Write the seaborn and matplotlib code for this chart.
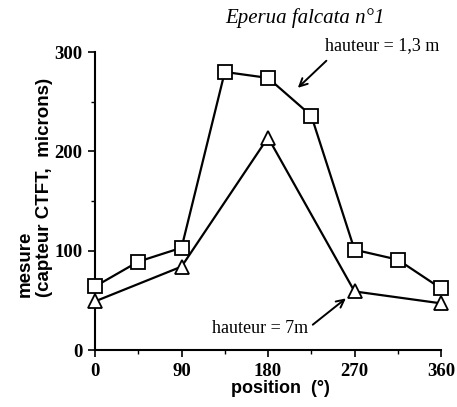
import matplotlib
matplotlib.use('Agg')
import matplotlib.pyplot as plt
import seaborn as sns
import pandas as pd

positions_haut = [0, 45, 90, 135, 180, 225, 270, 315, 360]
mesure_haut = [64, 89, 103, 280, 274, 236, 101, 91, 62]

positions_bas = [0, 90, 180, 270, 360]
mesure_bas = [49, 84, 214, 59, 47]

xticks = [0, 90, 180, 270, 360]
yticks = [0, 100, 200, 300]

sns.set_style('ticks')
plt.rcParams.update({'text.color': 'black', 'axes.labelcolor': 'black',
                     'xtick.color': 'black', 'ytick.color': 'black',
                     'axes.edgecolor': 'black'})

df_haut = pd.DataFrame({'position': positions_haut, 'mesure': mesure_haut})
df_bas = pd.DataFrame({'position': positions_bas, 'mesure': mesure_bas})

fig = plt.figure(figsize=(4.57, 4.07), dpi=100)
ax = fig.add_axes([0.208, 0.14, 0.757, 0.732])

sns.lineplot(x='position', y='mesure', data=df_haut, ax=ax, color='black', lw=1.6,
             marker='s', markersize=10, markerfacecolor='white',
             markeredgecolor='black', markeredgewidth=1.3, zorder=3)
sns.lineplot(x='position', y='mesure', data=df_bas, ax=ax, color='black', lw=1.6,
             marker='^', markersize=10, markerfacecolor='white',
             markeredgecolor='black', markeredgewidth=1.3, zorder=3)

ax.set_xlim(0, 360)
ax.set_ylim(0, 300)
ax.set_xticks(xticks)
ax.set_yticks(yticks)
ax.set_xticklabels([str(v) for v in xticks], fontfamily='Liberation Serif',
                   fontweight='bold', fontsize=13.5)
ax.set_yticklabels([str(v) for v in yticks], fontfamily='Liberation Serif',
                   fontweight='bold', fontsize=13.5)
ax.set_xticks([45, 135, 225, 315], minor=True)
ax.set_yticks([50, 150, 250], minor=True)
ax.tick_params(which='major', length=5, width=1.2, pad=4)
ax.tick_params(which='minor', length=3, width=1)
sns.despine(ax=ax)
for s in ['left', 'bottom']:
    ax.spines[s].set_linewidth(1.5)
for l in ax.lines:
    l.set_clip_on(False)

ax.set_xlabel('position  (°)', fontsize=13, fontweight='bold',
              fontfamily='Liberation Sans')
ax.xaxis.set_label_coords(0.535, -0.1)
ax.set_ylabel('mesure\n(capteur CTFT,  microns)', fontsize=13.5, fontweight='bold',
              fontfamily='Liberation Sans', linespacing=1.2,
              multialignment='left')
ax.yaxis.set_label_coords(-0.122, 0.545)

fig.text(0.667, 0.955, 'Eperua falcata n°1', fontsize=15, style='italic',
         fontfamily='Liberation Serif', ha='center', va='center')

ax.annotate('hauteur = 1,3 m', xy=(211, 264), xytext=(239, 307),
            fontsize=13, fontfamily='Liberation Serif',
            ha='left', va='center', annotation_clip=False,
            arrowprops=dict(arrowstyle='->', color='black', lw=1.4,
                            shrinkA=4, shrinkB=0, mutation_scale=14,
                            relpos=(0.08, 0.0)))
ax.annotate('hauteur = 7m', xy=(261, 52), xytext=(122, 22),
            fontsize=13, fontfamily='Liberation Serif',
            ha='left', va='center', annotation_clip=False,
            arrowprops=dict(arrowstyle='->', color='black', lw=1.4,
                            shrinkA=1, shrinkB=0, mutation_scale=14,
                            relpos=(1.0, 0.5)))

fig.savefig('out.png', dpi=100)
